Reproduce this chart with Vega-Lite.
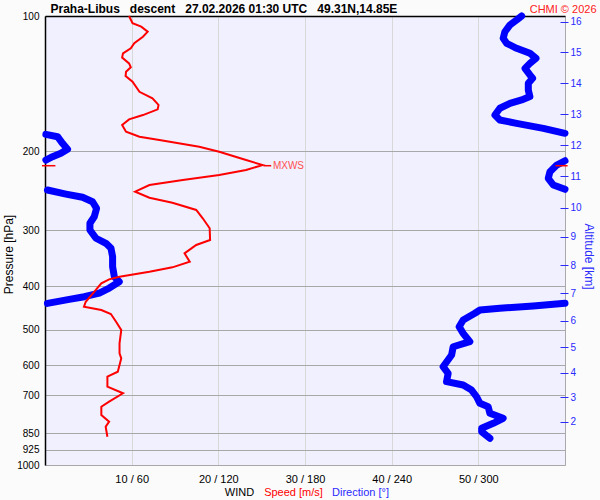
{
  "$schema": "https://vega.github.io/schema/vega-lite/v6.json",
  "width": 520,
  "height": 449,
  "autosize": {"type": "none"},
  "padding": {"left": 45, "top": 16, "right": 35, "bottom": 35},
  "background": "#fbfbfb",
  "config": {
    "view": {"fill": "#f0f0ff", "stroke": "#aaaaaa"},
    "font": "Liberation Sans",
    "axis": {"labelFont": "Liberation Sans", "titleFont": "Liberation Sans", "titleFontWeight": "normal", "labelOverlap": false, "labelFlush": false}
  },
  "datasets": {
    "speed": [
      {"p": 100, "s": 9.7}, {"p": 103.8, "s": 10.1}, {"p": 105.6, "s": 11.1}, {"p": 108.4, "s": 11.85},
      {"p": 111.2, "s": 11.3}, {"p": 115.0, "s": 10.3}, {"p": 118.0, "s": 9.9}, {"p": 121.1, "s": 9.0},
      {"p": 123.8, "s": 8.9}, {"p": 127.5, "s": 9.7}, {"p": 130.1, "s": 9.9}, {"p": 133.1, "s": 9.35},
      {"p": 136.0, "s": 9.3}, {"p": 140.1, "s": 10.1}, {"p": 147.5, "s": 10.9}, {"p": 152.5, "s": 12.4},
      {"p": 157.8, "s": 13.1}, {"p": 161.4, "s": 13.0}, {"p": 166.2, "s": 11.3}, {"p": 169.9, "s": 9.7},
      {"p": 174.9, "s": 8.9}, {"p": 181.0, "s": 9.35}, {"p": 185.7, "s": 10.9}, {"p": 188.9, "s": 13.2},
      {"p": 195.5, "s": 17.8}, {"p": 200.6, "s": 20.1}, {"p": 209.3, "s": 23.2}, {"p": 214.8, "s": 25.1},
      {"p": 220.3, "s": 23.2}, {"p": 226.0, "s": 20.1}, {"p": 231.9, "s": 15.9}, {"p": 237.9, "s": 12.05},
      {"p": 246.2, "s": 10.4}, {"p": 253.9, "s": 12.05}, {"p": 260.5, "s": 14.7}, {"p": 270.4, "s": 17.45},
      {"p": 282.2, "s": 18.2}, {"p": 297.0, "s": 19.0}, {"p": 315.4, "s": 19.05}, {"p": 323.6, "s": 17.45},
      {"p": 337.7, "s": 16.1}, {"p": 352.6, "s": 16.7}, {"p": 362.9, "s": 14.7}, {"p": 371.2, "s": 12.05},
      {"p": 380.8, "s": 8.6}, {"p": 385.9, "s": 7.4}, {"p": 393.9, "s": 6.5}, {"p": 411.2, "s": 5.7},
      {"p": 432.9, "s": 4.7}, {"p": 444.1, "s": 4.5}, {"p": 451.7, "s": 6.5}, {"p": 461.0, "s": 7.6},
      {"p": 479.6, "s": 8.2}, {"p": 500.4, "s": 8.8}, {"p": 535.8, "s": 8.6}, {"p": 563.9, "s": 8.6},
      {"p": 578.6, "s": 8.8}, {"p": 619.7, "s": 8.4}, {"p": 635.8, "s": 7.2}, {"p": 669.2, "s": 7.2},
      {"p": 692.2, "s": 9.0}, {"p": 722.8, "s": 7.4}, {"p": 741.6, "s": 6.5}, {"p": 773.7, "s": 6.5},
      {"p": 800.8, "s": 7.4}, {"p": 821.6, "s": 7.0}, {"p": 865.0, "s": 7.2}
    ],
    "dir": [
      {"seg": 1, "p": 100, "d": 330}, {"seg": 1, "p": 102.1, "d": 326.5}, {"seg": 1, "p": 104.7, "d": 321.9},
      {"seg": 1, "p": 108.4, "d": 318.4}, {"seg": 1, "p": 112.1, "d": 317.2}, {"seg": 1, "p": 115.0, "d": 319.6},
      {"seg": 1, "p": 118.0, "d": 326.5}, {"seg": 1, "p": 121.1, "d": 335.7}, {"seg": 1, "p": 124.2, "d": 339.9},
      {"seg": 1, "p": 127.5, "d": 335.7}, {"seg": 1, "p": 130.8, "d": 332.3}, {"seg": 1, "p": 135.3, "d": 335.7},
      {"seg": 1, "p": 137.6, "d": 337.6}, {"seg": 1, "p": 141.2, "d": 334.6}, {"seg": 1, "p": 146.2, "d": 334.6},
      {"seg": 1, "p": 151.2, "d": 335.7}, {"seg": 1, "p": 153.8, "d": 330.0}, {"seg": 1, "p": 156.5, "d": 321.9},
      {"seg": 1, "p": 160.5, "d": 314.9}, {"seg": 1, "p": 166.2, "d": 311.5}, {"seg": 1, "p": 170.5, "d": 314.9},
      {"seg": 1, "p": 173.4, "d": 326.5}, {"seg": 1, "p": 177.9, "d": 345.0}, {"seg": 1, "p": 182.5, "d": 360},
      {"seg": 2, "p": 183.5, "d": 0.6}, {"seg": 2, "p": 185.7, "d": 8.7}, {"seg": 2, "p": 192.1, "d": 12.1},
      {"seg": 2, "p": 198.1, "d": 15.6}, {"seg": 2, "p": 202.2, "d": 11.0}, {"seg": 2, "p": 205.8, "d": 5.2},
      {"seg": 2, "p": 209.3, "d": 0.6},
      {"seg": 3, "p": 210.1, "d": 360}, {"seg": 3, "p": 214.8, "d": 354.3}, {"seg": 3, "p": 222.2, "d": 349.6},
      {"seg": 3, "p": 229.9, "d": 348.4}, {"seg": 3, "p": 237.9, "d": 351.9}, {"seg": 3, "p": 243.2, "d": 360},
      {"seg": 4, "p": 244.1, "d": 1.7}, {"seg": 4, "p": 249.2, "d": 14.5}, {"seg": 4, "p": 253.4, "d": 26.0},
      {"seg": 4, "p": 259.2, "d": 32.9}, {"seg": 4, "p": 268.1, "d": 35.7}, {"seg": 4, "p": 279.9, "d": 34.1},
      {"seg": 4, "p": 289.5, "d": 31.1}, {"seg": 4, "p": 299.6, "d": 31.1}, {"seg": 4, "p": 312.6, "d": 35.3},
      {"seg": 4, "p": 320.8, "d": 42.2}, {"seg": 4, "p": 329.1, "d": 45.7}, {"seg": 4, "p": 343.6, "d": 46.8},
      {"seg": 4, "p": 361.7, "d": 46.8}, {"seg": 4, "p": 380.8, "d": 48.0}, {"seg": 4, "p": 390.7, "d": 51.4},
      {"seg": 4, "p": 403.5, "d": 44.5}, {"seg": 4, "p": 414.0, "d": 37.6}, {"seg": 4, "p": 421.9, "d": 27.2},
      {"seg": 4, "p": 427.6, "d": 16.8}, {"seg": 4, "p": 436.5, "d": 1.7},
      {"seg": 5, "p": 436.5, "d": 360}, {"seg": 5, "p": 442.5, "d": 338.0}, {"seg": 5, "p": 447.7, "d": 314.9},
      {"seg": 5, "p": 451.7, "d": 301.1}, {"seg": 5, "p": 459.3, "d": 297.6}, {"seg": 5, "p": 475.4, "d": 289.5},
      {"seg": 5, "p": 492.0, "d": 286.7}, {"seg": 5, "p": 509.0, "d": 289.5}, {"seg": 5, "p": 531.4, "d": 294.1},
      {"seg": 5, "p": 545.3, "d": 282.6}, {"seg": 5, "p": 568.9, "d": 281.5}, {"seg": 5, "p": 604.1, "d": 275.6},
      {"seg": 5, "p": 624.9, "d": 279.1}, {"seg": 5, "p": 652.3, "d": 278.0}, {"seg": 5, "p": 663.4, "d": 289.5},
      {"seg": 5, "p": 680.8, "d": 295.3}, {"seg": 5, "p": 704.7, "d": 298.8}, {"seg": 5, "p": 729.0, "d": 301.1},
      {"seg": 5, "p": 741.6, "d": 306.8}, {"seg": 5, "p": 767.2, "d": 308.0}, {"seg": 5, "p": 787.0, "d": 317.2},
      {"seg": 5, "p": 807.4, "d": 310.3}, {"seg": 5, "p": 828.5, "d": 302.3}, {"seg": 5, "p": 843.0, "d": 302.3},
      {"seg": 5, "p": 872.0, "d": 308.0}
    ],
    "mxedge": [
      {"p": 215.5, "s1": -0.35, "s2": 1.2},
      {"p": 215.5, "s1": 58.9, "s2": 60.3}
    ],
    "mxlink": [
      {"p": 215.5, "s1": 25.2, "s2": 26.1}
    ],
    "mxlabel": [
      {"p": 215.5, "s": 26.3, "label": "MXWS"}
    ]
  },
  "layer": [
    {
      "data": {"name": "dir"},
      "mark": {"type": "line", "color": "#0000ff", "strokeWidth": 7, "strokeCap": "round", "strokeJoin": "round"},
      "encoding": {
        "x": {"field": "d", "type": "quantitative", "scale": {"domain": [0, 360], "nice": false, "zero": false},
          "axis": {"orient": "bottom", "labels": false, "ticks": false, "domain": false, "grid": false,
            "title": "Direction [°]", "titleColor": "#2a2aff", "titleFontSize": 11, "titleX": 315, "titleY": 30,
            "titleBaseline": "alphabetic", "titleAlign": "center", "titleAnchor": null}},
        "y": {"field": "p", "type": "quantitative", "scale": {"type": "log", "domain": [100, 1000], "reverse": true, "nice": false},
          "axis": {"orient": "right", "values": [103.0, 120.5, 141.2, 165.5, 193.8, 227.2, 267.3, 310.0, 358.6, 414.6, 477.1, 546.1, 622.9, 706.8, 800.7],
            "labelExpr": "datum.value<110?'16':datum.value<130?'15':datum.value<150?'14':datum.value<180?'13':datum.value<210?'12':datum.value<245?'11':datum.value<290?'10':datum.value<335?'9':datum.value<385?'8':datum.value<445?'7':datum.value<510?'6':datum.value<585?'5':datum.value<665?'4':datum.value<750?'3':'2'",
            "grid": false, "domain": false, "ticks": true, "tickColor": "#2a2aff", "tickSize": 8, "offset": -5,
            "labelColor": "#2a2aff", "labelFontSize": 10, "labelPadding": 2, "labelAlign": "left", "labelBaseline": "middle",
            "title": "Altitude [km]", "titleColor": "#2a2aff", "titleFontSize": 12, "titleAngle": 90,
            "titleX": 28, "titleY": 240, "titleAlign": "center", "titleBaseline": "middle", "titleAnchor": null}},
        "detail": {"field": "seg", "type": "nominal"},
        "order": {"field": "p", "type": "quantitative"}
      }
    },
    {
      "data": {"name": "speed"},
      "mark": {"type": "line", "color": "#ff0000", "strokeWidth": 2},
      "encoding": {
        "x": {"field": "s", "type": "quantitative", "scale": {"domain": [0, 60], "nice": false, "zero": false},
          "axis": {"orient": "bottom", "values": [10, 20, 30, 40, 50], "labelExpr": "datum.value + ' / ' + datum.value*6",
            "grid": true, "gridColor": "#d8d8d8", "gridWidth": 1, "ticks": false, "tickSize": 0, "domain": false,
            "labelFontSize": 11, "labelColor": "#000000", "labelPadding": 17, "labelBaseline": "alphabetic",
            "title": "Speed [m/s]", "titleColor": "#ff0000", "titleFontSize": 11, "titleX": 248, "titleY": 30,
            "titleBaseline": "alphabetic", "titleAlign": "center", "titleAnchor": null}},
        "y": {"field": "p", "type": "quantitative", "scale": {"type": "log", "domain": [100, 1000], "reverse": true, "nice": false},
          "axis": {"orient": "left", "values": [100, 200, 300, 400, 500, 600, 700, 850, 925, 1000], "format": "d",
            "grid": true, "gridColor": "#a8a8a8", "gridWidth": 1, "ticks": false, "tickSize": 0,
            "domain": true, "domainColor": "#000000", "domainWidth": 1.5,
            "labelFontSize": 10, "labelColor": "#000000", "labelPadding": 6, "labelBaseline": "middle",
            "title": "Pressure [hPa]", "titleColor": "#000000", "titleFontSize": 12, "titleAngle": -90,
            "titleX": -37, "titleY": 238, "titleAlign": "center", "titleBaseline": "middle", "titleAnchor": null}},
        "order": {"field": "p", "type": "quantitative"}
      }
    },
    {
      "data": {"name": "mxedge"},
      "mark": {"type": "rule", "color": "#ff0000", "strokeWidth": 1.5},
      "encoding": {
        "x": {"field": "s1", "type": "quantitative", "scale": {"domain": [0, 60], "nice": false, "zero": false},
          "axis": {"orient": "top", "labels": false, "ticks": false, "grid": false, "domain": true, "domainColor": "#000000", "domainWidth": 1.5,
            "title": "CHMI © 2026", "titleColor": "#ff2020", "titleFontSize": 11, "titleX": 551, "titleY": -4,
            "titleAlign": "right", "titleBaseline": "alphabetic", "titleAnchor": null}},
        "x2": {"field": "s2"},
        "y": {"field": "p", "type": "quantitative", "scale": {"type": "log", "domain": [100, 1000], "reverse": true, "nice": false}, "axis": null}
      }
    },
    {
      "data": {"name": "mxlink"},
      "mark": {"type": "rule", "color": "#ff0000", "strokeWidth": 1.5},
      "encoding": {
        "x": {"field": "s1", "type": "quantitative", "scale": {"domain": [0, 60], "nice": false, "zero": false},
          "axis": {"orient": "top", "labels": false, "ticks": false, "grid": false, "domain": false,
            "title": "Praha-Libus\u00a0\u00a0\u00a0descent\u00a0\u00a0\u00a027.02.2026 01:30 UTC\u00a0\u00a0\u00a049.31N,14.85E",
            "titleColor": "#000000", "titleFontSize": 12, "titleFontWeight": "bold", "titleX": 5, "titleY": -4,
            "titleAlign": "left", "titleBaseline": "alphabetic", "titleAnchor": null, "titleLimit": 0}},
        "x2": {"field": "s2"},
        "y": {"field": "p", "type": "quantitative", "scale": {"type": "log", "domain": [100, 1000], "reverse": true, "nice": false}, "axis": null}
      }
    },
    {
      "data": {"name": "mxlabel"},
      "mark": {"type": "text", "color": "#ff5050", "fontSize": 10, "align": "left", "baseline": "middle", "font": "Liberation Sans"},
      "encoding": {
        "x": {"field": "s", "type": "quantitative", "scale": {"domain": [0, 60], "nice": false, "zero": false},
          "axis": {"orient": "bottom", "labels": false, "ticks": false, "grid": false, "domain": false,
            "title": "WIND", "titleColor": "#000000", "titleFontSize": 11, "titleX": 194, "titleY": 30,
            "titleAlign": "center", "titleBaseline": "alphabetic", "titleAnchor": null}},
        "y": {"field": "p", "type": "quantitative", "scale": {"type": "log", "domain": [100, 1000], "reverse": true, "nice": false}, "axis": null},
        "text": {"field": "label"}
      }
    }
  ],
  "resolve": {"scale": {"x": "independent"}, "axis": {"x": "independent", "y": "independent"}}
}
